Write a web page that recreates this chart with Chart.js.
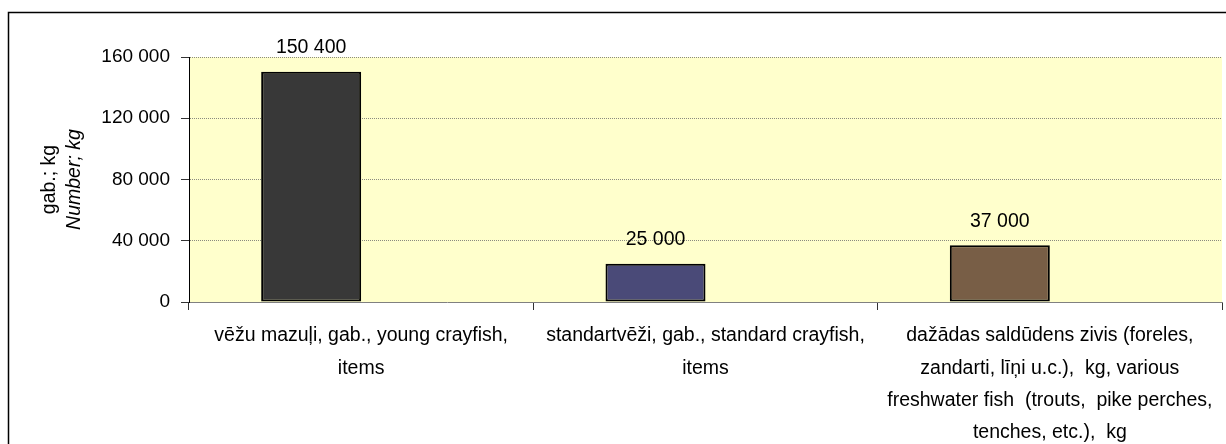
<!DOCTYPE html>
<html>
<head>
<meta charset="utf-8">
<script src="https://cdn.jsdelivr.net/npm/chart.js@4/dist/chart.umd.min.js"></script>
<style>
html,body{margin:0;padding:0;background:#fff;}
#wrap{width:1226px;height:444px;position:relative;}
</style>
</head>
<body>
<div id="wrap"><canvas id="c" width="1226" height="444"></canvas></div>
<script>
// ---- data ----
const categories = [
  ["vēžu mazuļi, gab., young crayfish,", "items"],
  ["standartvēži, gab., standard crayfish,", "items"],
  ["dažādas saldūdens zivis (foreles,", "zandarti, līņi u.c.),  kg, various", "freshwater fish  (trouts,  pike perches,", "tenches, etc.),  kg"]
];
const values = [150400, 25000, 37000];
const emptySeries = [null, null, null];
const barColors = ["#383838", "#4A4A78", "#785E46"];
const yAxisTitle = ["gab.; kg", "Number; kg"];
const yMin = 0, yMax = 160000, yStep = 40000;

const FONT = '"Liberation Sans", Arial, sans-serif';
const fmt = v => String(v).replace(/\B(?=(\d{3})+(?!\d))/g, ' ');

const bgPlugin = {
  id: 'bg',
  beforeDraw(chart) {
    const {ctx, chartArea: a} = chart;
    ctx.save();
    ctx.fillStyle = '#FFFFCC';
    ctx.fillRect(a.left, a.top, a.right - a.left, a.bottom - a.top);
    ctx.restore();
  },
  afterDraw(chart) {
    const ctx = chart.ctx;
    ctx.save();
    // outer frame
    ctx.strokeStyle = '#000';
    ctx.lineWidth = 1.5;
    ctx.strokeRect(8.5, 12.5, 1400, 600);
    // y axis title
    const a = chart.chartArea;
    const cy = (a.top + a.bottom) / 2;
    ctx.fillStyle = '#000';
    ctx.textAlign = 'center';
    ctx.textBaseline = 'middle';
    ctx.translate(50, cy);
    ctx.rotate(-Math.PI / 2);
    ctx.font = '19.5px ' + FONT;
    ctx.fillText(yAxisTitle[0], 0, 0);
    ctx.font = 'italic 19.5px ' + FONT;
    ctx.fillText(yAxisTitle[1], 0, 25);
    ctx.restore();
  }
};

const valueLabels = {
  id: 'valueLabels',
  afterDatasetsDraw(chart) {
    const ctx = chart.ctx;
    const meta = chart.getDatasetMeta(0);
    ctx.save();
    ctx.fillStyle = '#000';
    ctx.font = '19.5px ' + FONT;
    ctx.textAlign = 'center';
    ctx.textBaseline = 'middle';
    meta.data.forEach((bar, i) => {
      ctx.fillText(fmt(values[i]), bar.x, bar.y - 24);
    });
    ctx.restore();
  }
};

new Chart(document.getElementById('c'), {
  type: 'bar',
  data: {
    labels: categories,
    datasets: [
      {label: 'values', data: values, backgroundColor: barColors, borderColor: '#000', borderWidth: 2, borderSkipped: false},
      {label: '', data: emptySeries}
    ]
  },
  options: {
    responsive: false,
    animation: false,
    events: [],
    categoryPercentage: 200 / 344.3,
    barPercentage: 1,
    layout: {padding: {left: 0, right: 4, top: 57, bottom: 0}},
    plugins: {legend: {display: false}, tooltip: {enabled: false}, title: {display: false}},
    scales: {
      x: {
        grid: {offset: true, drawOnChartArea: false, tickLength: 8, color: '#333', tickColor: '#333'},
        border: {color: '#808080', width: 1},
        ticks: {color: '#000', font: {family: FONT, size: 19.5, lineHeight: 1.65}, padding: 10, maxRotation: 0, autoSkip: false},
        afterFit(s) { s.height = 444 - 302; }
      },
      y: {
        min: yMin, max: yMax,
        grid: {color: '#8a8a80', tickColor: '#333', tickLength: 8, lineWidth: 1},
        border: {color: '#000', width: 1, dash: [1, 1]},
        ticks: {stepSize: yStep, color: '#000', font: {family: FONT, size: 19}, padding: 11, callback: v => fmt(v)},
        afterFit(s) { s.width = 189; }
      }
    }
  },
  plugins: [bgPlugin, valueLabels]
});
</script>
</body>
</html>
